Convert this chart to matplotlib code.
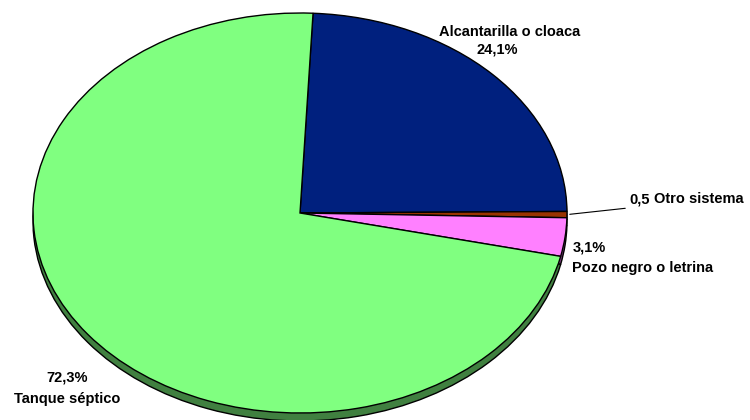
import matplotlib
matplotlib.use("Agg")
import matplotlib.pyplot as plt
import numpy as np

categories = ["Alcantarilla o cloaca", "Otro sistema", "Pozo negro o letrina", "Tanque séptico"]
values = [24.1, 0.5, 3.1, 72.3]
value_labels = ["24,1%", "0,5", "3,1%", "72,3%"]
top_colors = ["#00207E", "#993300", "#FF80FF", "#80FF80"]
side_colors = ["#001040", "#4C1900", "#804080", "#408040"]

W, H = 750, 420
fig = plt.figure(figsize=(W / 100, H / 100), dpi=100)

# ellipse geometry in pixels (origin top-left)
cx, cy = 300, 213
rx, ry = 267, 200
depth = 8
lim = 1.05


def pie_axes(offset):
    left = cx - rx * lim
    bottom = (H - cy - offset) - ry * lim
    a = fig.add_axes([left / W, bottom / H, 2 * rx * lim / W, 2 * ry * lim / H])
    a.set_axis_off()
    return a


side_ax = pie_axes(depth)
side_ax.pie(values, colors=side_colors, startangle=87.2, counterclock=False,
            wedgeprops=dict(edgecolor="black", linewidth=1.0))
side_ax.set_aspect("auto")
side_ax.set_xlim(-lim, lim)
side_ax.set_ylim(-lim, lim)

top_ax = pie_axes(0)
wedges, _ = top_ax.pie(values, colors=top_colors, startangle=87.2, counterclock=False,
                       wedgeprops=dict(edgecolor="black", linewidth=1.0))
top_ax.set_aspect("auto")
top_ax.set_xlim(-lim, lim)
top_ax.set_ylim(-lim, lim)

# overlay in pixel coordinates for labels
ax = fig.add_axes([0, 0, 1, 1])
ax.set_xlim(0, W)
ax.set_ylim(H, 0)
ax.set_axis_off()

font = dict(family="Liberation Sans", fontsize=10.5, fontweight="bold", color="black")

ax.text(510, 32, categories[0], ha="center", va="center", **font)
ax.text(497, 49, value_labels[0], ha="center", va="center", **font)

ax.text(629, 200, value_labels[1], ha="left", va="center", **font)
ax.text(654, 199, categories[1], ha="left", va="center", **font)

ax.text(573, 247, value_labels[2], ha="left", va="center", **font)
ax.text(572, 268, categories[2], ha="left", va="center", **font)

ax.text(67, 378, value_labels[3], ha="center", va="center", **font)
ax.text(67, 399, categories[3], ha="center", va="center", **font)

# leader line for the thin slice
w = wedges[1]
mid = np.deg2rad((w.theta1 + w.theta2) / 2)
edge = ax.transData.inverted().transform(top_ax.transData.transform((np.cos(mid), np.sin(mid))))
ax.annotate("", xy=edge, xytext=(628, 208),
            arrowprops=dict(arrowstyle="-", color="black", lw=0.8))

fig.savefig("out.png", dpi=100)
